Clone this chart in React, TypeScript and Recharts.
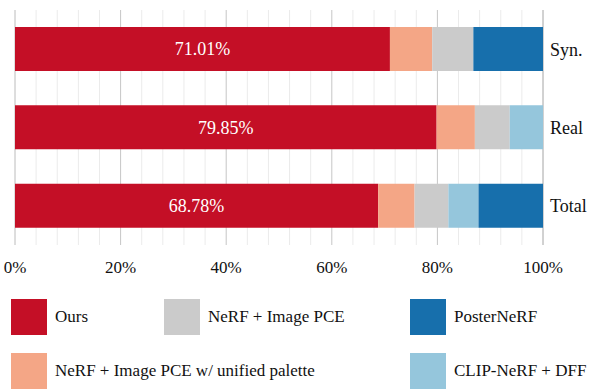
import React from 'react';
import { BarChart, Bar, XAxis, YAxis, CartesianGrid, Legend, LabelList } from 'recharts';

const categories = ['Syn.', 'Real', 'Total'];
const ours = [71.01, 79.85, 68.78];
const unifiedPalette = [8.0, 7.25, 6.9];
const imagePce = [7.8, 6.6, 6.4];
const clipNerf = [0, 6.3, 5.7];
const posterNerf = [13.19, 0, 12.22];
const majorTicks = [0, 20, 40, 60, 80, 100];
const minorTicks = [4, 8, 12, 16, 24, 28, 32, 36, 44, 48, 52, 56, 64, 68, 72, 76, 84, 88, 92, 96];

const series = [
  { key: 'ours', name: 'Ours', color: '#c40f26', values: ours },
  { key: 'unified', name: 'NeRF + Image PCE w/ unified palette', color: '#f4a686', values: unifiedPalette },
  { key: 'imagePce', name: 'NeRF + Image PCE', color: '#cbcbcb', values: imagePce },
  { key: 'clip', name: 'CLIP-NeRF + DFF', color: '#95c6dc', values: clipNerf },
  { key: 'poster', name: 'PosterNeRF', color: '#176fac', values: posterNerf },
];

// where each legend entry sits: [column, row]
const legendSlots: Record<string, [number, number]> = {
  Ours: [0, 0],
  'NeRF + Image PCE w/ unified palette': [0, 1],
  'NeRF + Image PCE': [1, 0],
  PosterNeRF: [2, 0],
  'CLIP-NeRF + DFF': [2, 1],
};
const colX = [11, 164, 410];
const rowY = [9, 63];

const data = categories.map((name, i) => {
  const row: any = { name };
  series.forEach(s => { row[s.key] = s.values[i]; });
  return row;
});

const FONT = "'Liberation Serif', 'DejaVu Serif', serif";

const CustomLegend = ({ payload }: any) => (
  <div style={{ position: 'relative', width: 598, height: 101, fontFamily: FONT }}>
    {(payload || []).map((entry: any) => {
      const slot = legendSlots[entry.value];
      if (!slot) return null;
      return (
        <div
          key={entry.value}
          style={{ position: 'absolute', left: colX[slot[0]], top: rowY[slot[1]], display: 'flex', alignItems: 'center' }}
        >
          <div style={{ width: 36, height: 36, background: entry.color }} />
          <span style={{ marginLeft: 8, fontSize: 17, color: '#111', whiteSpace: 'nowrap' }}>{entry.value}</span>
        </div>
      );
    })}
  </div>
);

// the minor axis has ticks (so the grid gets them) but draws no labels
const NoTick = () => <g />;

const App: React.FC = () => {
  return (
    <div style={{ position: 'absolute', left: 0, top: 0, width: 598, height: 391, background: '#fff', fontFamily: FONT }}>
      <style>{`.paper-chart svg text { font-family: ${FONT}; }`}</style>
      <div className="paper-chart">
        <BarChart
          width={598}
          height={391}
          data={data}
          layout="vertical"
          margin={{ top: 10, right: 0, bottom: 0, left: 15 }}
          barSize={44}
        >
          {/* minor grid from a silent axis, major grid from the visible one */}
          <CartesianGrid horizontal={false} stroke="#ebebeb" xAxisId="minor" />
          <CartesianGrid horizontal={false} stroke="#c6c6c6" xAxisId="main" />
          <XAxis
            xAxisId="minor"
            type="number"
            domain={[0, 100]}
            allowDataOverflow
            ticks={minorTicks}
            interval={0}
            tick={<NoTick />}
            tickLine={false}
            axisLine={false}
            height={0}
          />
          <XAxis
            xAxisId="main"
            type="number"
            domain={[0, 100]}
            ticks={majorTicks}
            tickFormatter={(v: number) => `${v}%`}
            axisLine={false}
            tickLine={false}
            tickMargin={10}
            height={45}
            interval={0}
            tick={{ fill: '#111', fontSize: 17 }}
          />
          <YAxis
            type="category"
            dataKey="name"
            orientation="right"
            width={55}
            axisLine={false}
            tickLine={false}
            tickSize={0}
            tickMargin={7}
            tick={{ fill: '#111', fontSize: 18, textAnchor: 'start' }}
          />
          <Legend
            content={<CustomLegend />}
            verticalAlign="bottom"
            height={101}
            wrapperStyle={{ left: 0, bottom: 0, width: 598 }}
          />
          {series.map(s => (
            <Bar key={s.key} xAxisId="main" dataKey={s.key} name={s.name} stackId="a" fill={s.color} isAnimationActive={false}>
              {s.key === 'ours' && (
                <LabelList
                  dataKey="ours"
                  position="center"
                  formatter={(v: any) => `${Number(v).toFixed(2)}%`}
                  style={{ fill: '#fff', fontSize: 18 }}
                />
              )}
            </Bar>
          ))}
        </BarChart>
      </div>
    </div>
  );
};

export default App;
